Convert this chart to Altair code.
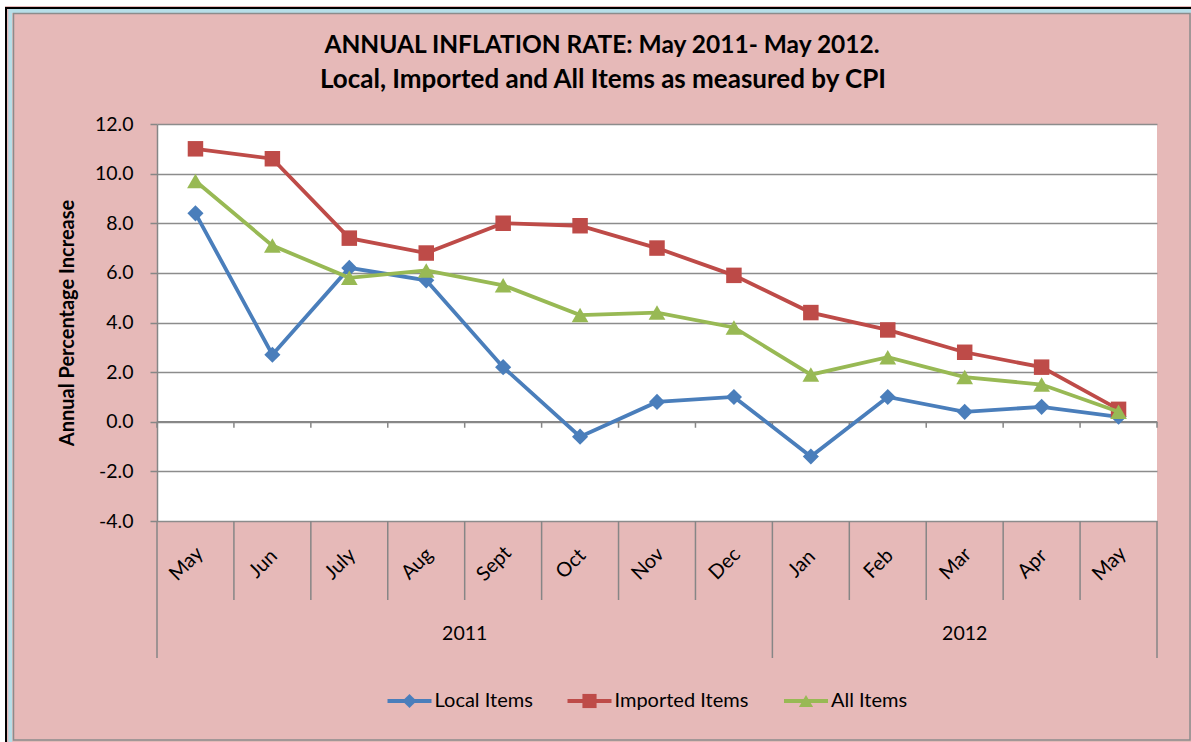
import altair as alt
import pandas as pd

# ---------------- data ----------------
months = ["May", "Jun", "July", "Aug", "Sept", "Oct", "Nov", "Dec",
          "Jan", "Feb", "Mar", "Apr", "May"]
years = ["2011"] * 8 + ["2012"] * 5
local_items = [8.4, 2.7, 6.2, 5.7, 2.2, -0.6, 0.8, 1.0, -1.4, 1.0, 0.4, 0.6, 0.2]
imported_items = [11.0, 10.6, 7.4, 6.8, 8.0, 7.9, 7.0, 5.9, 4.4, 3.7, 2.8, 2.2, 0.5]
all_items = [9.7, 7.1, 5.8, 6.1, 5.5, 4.3, 4.4, 3.8, 1.9, 2.6, 1.8, 1.5, 0.4]
series_names = ["Local Items", "Imported Items", "All Items"]
y_ticks = [-4, -2, 0, 2, 4, 6, 8, 10, 12]
title_lines = ["ANNUAL INFLATION RATE: May 2011- May 2012.",
               "Local, Imported and All Items as measured by CPI"]
y_title = "Annual Percentage Increase"

# ---------------- styles / layout ----------------
series_colors = ["#4A7EBB", "#BE4B48", "#98B954"]
series_shapes = ["diamond", "square", "triangle-up"]
series_sizes = [260, 240, 280]
W, H = 1000, 397
FONT = "Lato"
PINK = "#E6B9B8"
GRID = "#8C8C8C"
legend_x = [230.5, 410.5, 627.0]
legend_len = 44

# ---------------- tables ----------------
series_values = [local_items, imported_items, all_items]
rows = []
for name, vals in zip(series_names, series_values):
    for i, (m, yr, v) in enumerate(zip(months, years, vals)):
        rows.append({"series": name, "idx": i, "month": m, "year": yr, "value": v})
df = pd.DataFrame(rows)

cat_df = pd.DataFrame({"idx": list(range(len(months))), "month": months, "year": years})
year_df = cat_df.groupby("year", as_index=False)["idx"].mean()

bounds = []
for k in range(len(months) + 1):
    long = k == 0 or k == len(months) or years[k] != years[k - 1]
    bounds.append({"b": k - 0.5, "long": long})
bound_df = pd.DataFrame(bounds)

leg_df = pd.DataFrame({
    "series": series_names,
    "lx": legend_x,
    "lx2": [v + legend_len for v in legend_x],
    "mx": [v + legend_len / 2 for v in legend_x],
    "tx": [v + legend_len + 3 for v in legend_x],
})

# ---------------- scales / encodings ----------------
xscale = alt.Scale(domain=[-0.5, len(months) - 0.5], nice=False, zero=False)
yscale = alt.Scale(domain=[-4, 12], nice=False, zero=False)
cscale = alt.Scale(domain=series_names, range=series_colors)
sscale = alt.Scale(domain=series_names, range=series_shapes)

yaxis = alt.Axis(
    values=y_ticks, title=y_title,
    labelExpr="replace(format(datum.value, '.1f'), '\u2212', '-')",
    titleFont=FONT, titleFontSize=20, titleFontWeight="bold", titleColor="black",
    titleX=-90, titleY=H / 2, titleAngle=270, titleAlign="center", titleBaseline="middle",
    labelFont=FONT, labelFontSize=19.5, labelColor="black", labelPadding=17,
    tickSize=7, tickColor="#868686", tickWidth=1.5,
    domainColor="#868686", domainWidth=1.5,
    grid=True, gridColor=GRID, gridWidth=1.3,
)


def X(field):
    return alt.X(field, type="quantitative", scale=xscale, axis=None)


def Y(field):
    return alt.Y(field, type="quantitative", scale=yscale, axis=yaxis)


one = alt.Data(values=[{"a": 1}])

# ---------------- outer frame ----------------
def frame(x, y, x2, y2, color, width):
    return alt.Chart(one).mark_rect(filled=False, stroke=color, strokeWidth=width).encode(
        x=alt.value(x), y=alt.value(y), x2=alt.value(x2), y2=alt.value(y2))

frames = [
    frame(-155, -121, 1045, 650, "white", 6),
    frame(-151, -116, 1043, 640, "black", 2),
    frame(-146.7, -113, 1040, 630, "#B7DEE8", 4),
    frame(-143.5, -110.5, 1033, 616, GRID, 1.5),
]

# ---------------- plot layers ----------------
zero_line = alt.Chart(one).mark_rule(color="#868686", strokeWidth=1.5).encode(
    x=alt.value(0), x2=alt.value(W), y=alt.Y(datum=0, type="quantitative", scale=yscale, axis=yaxis))

zero_ticks = alt.Chart(bound_df).mark_rule(color="#868686", strokeWidth=1.5, y2Offset=6).encode(
    x=X("b"),
    y=alt.Y(datum=0, type="quantitative", scale=yscale, axis=yaxis),
    y2=alt.Y2(datum=0),
)

sep_short = alt.Chart(bound_df).transform_filter("!datum.long").mark_rule(
    color="#868686", strokeWidth=1.5).encode(x=X("b"), y=alt.value(H), y2=alt.value(476))
sep_long = alt.Chart(bound_df).transform_filter("datum.long").mark_rule(
    color="#868686", strokeWidth=1.5).encode(x=X("b"), y=alt.value(H), y2=alt.value(534))

month_text = alt.Chart(cat_df).mark_text(
    angle=315, font=FONT, fontSize=20, color="black", align="center", baseline="middle").encode(
    x=X("idx"), y=alt.value(440), xOffset=alt.value(-9), text="month:N")

year_text = alt.Chart(year_df).mark_text(
    font=FONT, fontSize=19.5, color="black", align="center", baseline="middle").encode(
    x=X("idx"), y=alt.value(510), text="year:N")

series_layers = []
for name, col, shp, sz in zip(series_names, series_colors, series_shapes, series_sizes):
    base = alt.Chart(df).transform_filter(alt.datum.series == name)
    series_layers.append(base.mark_line(color=col, strokeWidth=3.8).encode(
        x=X("idx"), y=Y("value"), order="idx:Q"))
    series_layers.append(base.mark_point(filled=True, shape=shp, size=sz, color=col, opacity=1).encode(
        x=X("idx"), y=Y("value")))

# ---------------- manual legend ----------------
leg_line = alt.Chart(leg_df).mark_rule(strokeWidth=3.8).encode(
    x=alt.X("lx:Q", scale=None), x2=alt.X2("lx2:Q"), y=alt.value(577),
    color=alt.Color("series:N", scale=cscale, legend=None))
leg_pt = alt.Chart(leg_df).mark_point(filled=True, size=200, opacity=1).encode(
    x=alt.X("mx:Q", scale=None), y=alt.value(577),
    color=alt.Color("series:N", scale=cscale, legend=None),
    shape=alt.Shape("series:N", scale=sscale, legend=None))
leg_text = alt.Chart(leg_df).mark_text(
    font=FONT, fontSize=20, color="black", align="left", baseline="middle").encode(
    x=alt.X("tx:Q", scale=None), y=alt.value(577), text="series:N")

# ---------------- title ----------------
title1 = alt.Chart(one).mark_text(
    font=FONT, fontSize=24.5, fontWeight="bold", color="black", align="center",
    baseline="alphabetic", text=title_lines[0]).encode(x=alt.value(445), y=alt.value(-71))
title2 = alt.Chart(one).mark_text(
    font=FONT, fontSize=26, fontWeight="bold", color="black", align="center",
    baseline="alphabetic", text=title_lines[1]).encode(x=alt.value(446), y=alt.value(-36))

chart = alt.layer(
    *frames, zero_line, zero_ticks, sep_short, sep_long, month_text, year_text,
    *series_layers, leg_line, leg_pt, leg_text, title1, title2,
).properties(
    width=W, height=H,
    autosize=alt.AutoSizeParams(type="none"),
    padding={"left": 157, "top": 124, "right": 34, "bottom": 221},
    background=PINK,
).configure_view(stroke=None, fill="white")

chart.save("out.html", embed_options={"renderer": "svg", "actions": False})
